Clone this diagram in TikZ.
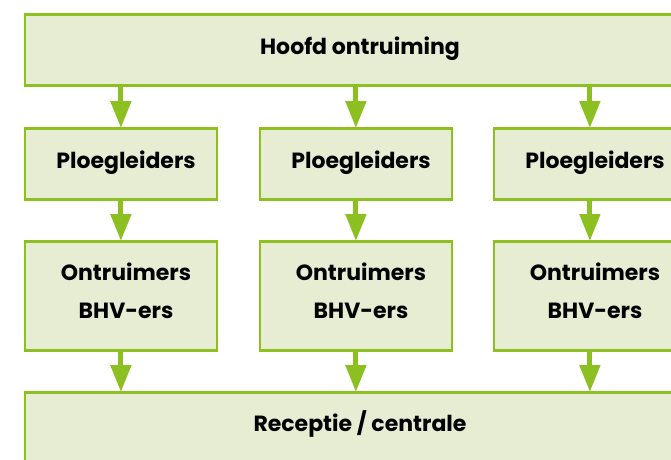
\documentclass[tikz,border=0pt]{standalone}
\usepackage{fontspec}
\setmainfont{Poppins}[BoldFont={Poppins Bold}]
\usetikzlibrary{arrows.meta}
\definecolor{lgreen}{HTML}{8CC021}
\definecolor{lfill}{HTML}{E7EDD3}
\tikzset{
  box/.style={draw=lgreen, fill=lfill, line width=2.8pt, inner sep=0pt, anchor=north west},
  lbl/.style={font=\fontsize{22}{26}\selectfont\bfseries, text=black, inner sep=0pt, anchor=base},
  flow/.style={draw=lgreen, line width=5pt, -{Triangle[width=20pt,length=27pt]}, shorten >=-1pt}
}
\begin{document}
\begin{tikzpicture}[x=1pt,y=-1pt]
\useasboundingbox (0,0) rectangle (671,459);
\clip (0,0) rectangle (671,459);
\node[box, minimum width=672pt, minimum height=71pt] (top) at (23.5,13) {};
\node[box, minimum width=192pt, minimum height=71pt] (p1) at (23.5,127) {};
\node[box, minimum width=192pt, minimum height=71pt] (p2) at (258.5,127) {};
\node[box, minimum width=192pt, minimum height=71pt] (p3) at (492.5,127) {};
\node[box, minimum width=192pt, minimum height=109pt] (o1) at (23.5,240) {};
\node[box, minimum width=192pt, minimum height=109pt] (o2) at (258.5,240) {};
\node[box, minimum width=192pt, minimum height=109pt] (o3) at (492.5,240) {};
\node[box, minimum width=672pt, minimum height=80pt] (bot) at (23.5,391) {};

\node[lbl] (t0) at (360,54) {Hoofd ontruiming};
\node[lbl] (t1) at (126,168) {Ploegleiders};
\node[lbl] (t2) at (361,168) {Ploegleiders};
\node[lbl] (t3) at (595,168) {Ploegleiders};
\foreach \i/\x in {1/126,2/361,3/595}{
  \node[lbl] (u\i) at (\x,280) {Ontruimers};
  \node[lbl] (v\i) at (\x,318) {BHV-ers};
}
\node[lbl] (t4) at (360,431) {Receptie / centrale};

\draw[flow] (top.south -| p1.north) -- (p1.north);
\draw[flow] (top.south -| p2.north) -- (p2.north);
\draw[flow] (top.south -| p3.north) -- (p3.north);
\draw[flow] (p1.south) -- (o1.north);
\draw[flow] (p2.south) -- (o2.north);
\draw[flow] (p3.south) -- (o3.north);
\draw[flow] (o1.south) -- (bot.north -| o1.south);
\draw[flow] (o2.south) -- (bot.north -| o2.south);
\draw[flow] (o3.south) -- (bot.north -| o3.south);
\end{tikzpicture}
\end{document}
